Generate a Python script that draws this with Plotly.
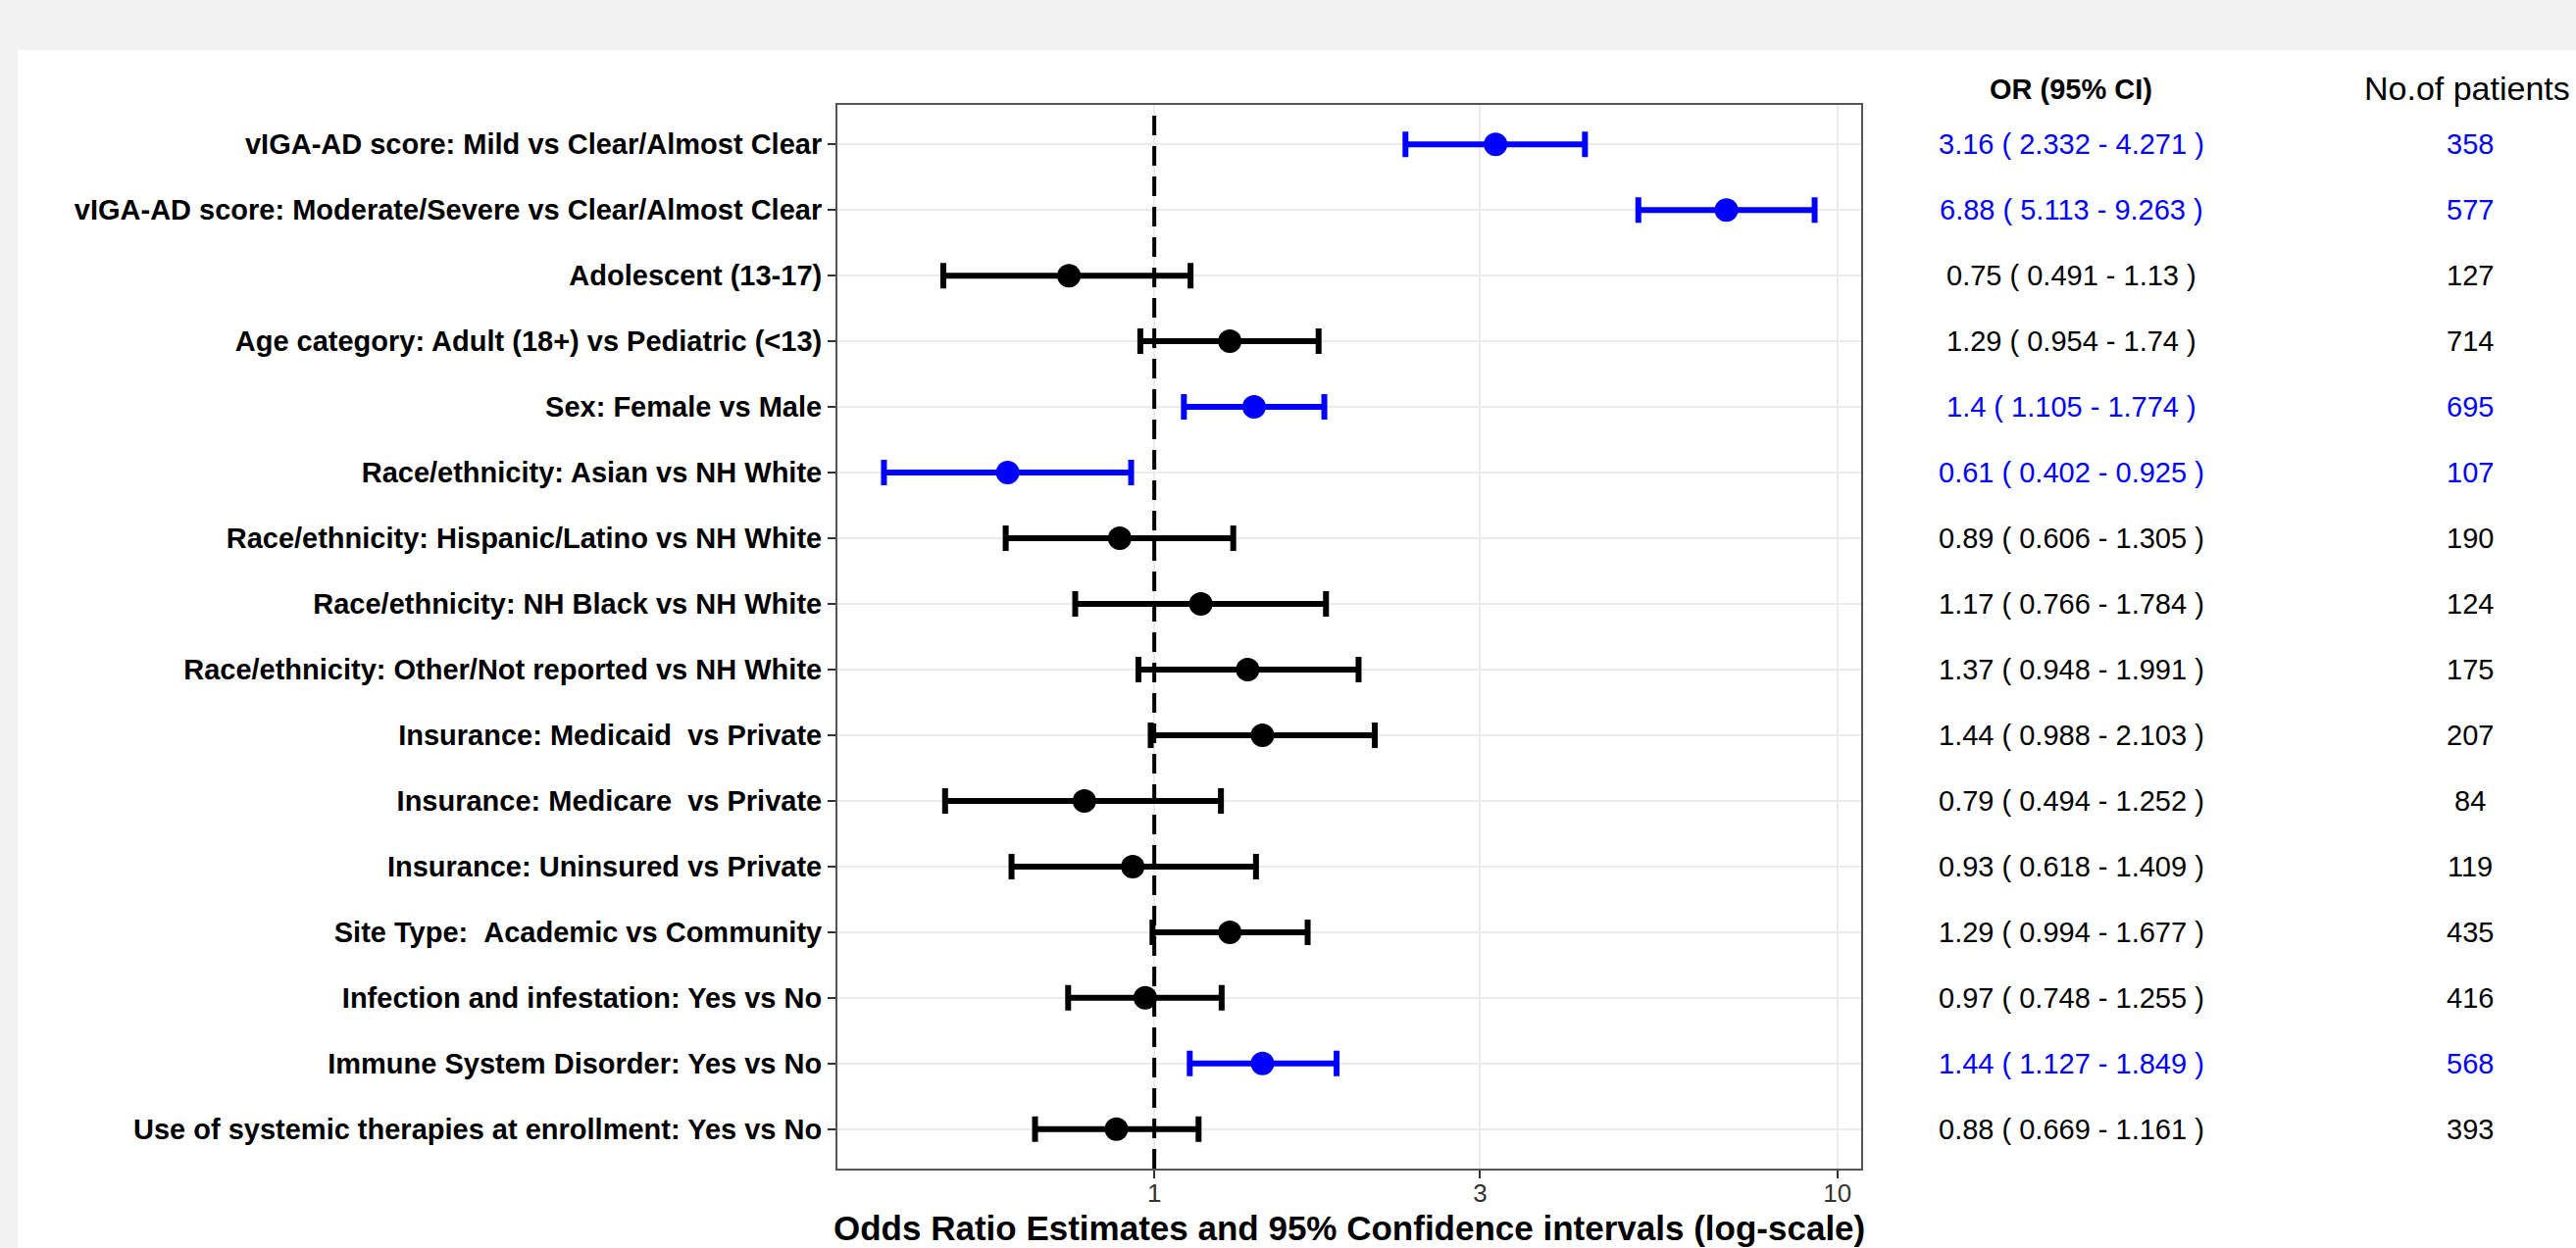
import math
import plotly.graph_objects as go

# ---------------- data ----------------
labels = [
    "vIGA-AD score: Mild vs Clear/Almost Clear",
    "vIGA-AD score: Moderate/Severe vs Clear/Almost Clear",
    "Adolescent (13-17)",
    "Age category: Adult (18+) vs Pediatric (<13)",
    "Sex: Female vs Male",
    "Race/ethnicity: Asian vs NH White",
    "Race/ethnicity: Hispanic/Latino vs NH White",
    "Race/ethnicity: NH Black vs NH White",
    "Race/ethnicity: Other/Not reported vs NH White",
    "Insurance: Medicaid  vs Private",
    "Insurance: Medicare  vs Private",
    "Insurance: Uninsured vs Private",
    "Site Type:  Academic vs Community",
    "Infection and infestation: Yes vs No",
    "Immune System Disorder: Yes vs No",
    "Use of systemic therapies at enrollment: Yes vs No",
]
odds_ratio = [3.16, 6.88, 0.75, 1.29, 1.4, 0.61, 0.89, 1.17, 1.37, 1.44, 0.79, 0.93, 1.29, 0.97, 1.44, 0.88]
ci_low = [2.332, 5.113, 0.491, 0.954, 1.105, 0.402, 0.606, 0.766, 0.948, 0.988, 0.494, 0.618, 0.994, 0.748, 1.127, 0.669]
ci_high = [4.271, 9.263, 1.13, 1.74, 1.774, 0.925, 1.305, 1.784, 1.991, 2.103, 1.252, 1.409, 1.677, 1.255, 1.849, 1.161]
n_patients = [358, 577, 127, 714, 695, 107, 190, 124, 175, 207, 84, 119, 435, 416, 568, 393]
or_text = [
    "3.16 ( 2.332 - 4.271 )", "6.88 ( 5.113 - 9.263 )", "0.75 ( 0.491 - 1.13 )",
    "1.29 ( 0.954 - 1.74 )", "1.4 ( 1.105 - 1.774 )", "0.61 ( 0.402 - 0.925 )",
    "0.89 ( 0.606 - 1.305 )", "1.17 ( 0.766 - 1.784 )", "1.37 ( 0.948 - 1.991 )",
    "1.44 ( 0.988 - 2.103 )", "0.79 ( 0.494 - 1.252 )", "0.93 ( 0.618 - 1.409 )",
    "1.29 ( 0.994 - 1.677 )", "0.97 ( 0.748 - 1.255 )", "1.44 ( 1.127 - 1.849 )",
    "0.88 ( 0.669 - 1.161 )",
]
x_ticks = [1, 3, 10]
x_title = "Odds Ratio Estimates and 95% Confidence intervals (log-scale)"
col1_header = "OR (95% CI)"
col2_header = "No.of patients"

BLUE = "#0000ff"
BLACK = "#000000"
FONT = "Liberation Sans, Arial, sans-serif"

W, H = 2627, 1273
L, R, T, B = 854, 1898, 107, 1192  # plot area in pixels

def disp(s):
    return s.replace("  ", " \u00a0")

ylabels = [disp(s) for s in labels]
significant = [(lo > 1) or (hi < 1) for lo, hi in zip(ci_low, ci_high)]

fig = go.Figure()

for flag, col in [(False, BLACK), (True, BLUE)]:
    idx = [i for i in range(len(labels)) if significant[i] == flag]
    fig.add_trace(go.Scatter(
        x=[odds_ratio[i] for i in idx],
        y=[ylabels[i] for i in idx],
        mode="markers",
        marker=dict(size=24, color=col, line=dict(width=0)),
        error_x=dict(
            type="data", symmetric=False,
            array=[ci_high[i] - odds_ratio[i] for i in idx],
            arrayminus=[odds_ratio[i] - ci_low[i] for i in idx],
            color=col, thickness=6, width=13,
        ),
        showlegend=False,
        cliponaxis=False,
    ))

# x range with 5% expansion on log scale (ggplot-like)
lo_log = math.log10(min(ci_low))
hi_log = math.log10(max(ci_high))
pad = 0.05 * (hi_log - lo_log)

fig.update_layout(
    width=W, height=H,
    paper_bgcolor="#f2f2f2",
    plot_bgcolor="white",
    margin=dict(l=L, r=W - R, t=T, b=H - B, autoexpand=False),
    font=dict(family=FONT, color="black"),
    xaxis=dict(
        type="log",
        range=[lo_log - pad, hi_log + pad],
        tickvals=x_ticks, ticktext=[str(v) for v in x_ticks],
        tickfont=dict(size=26, color="#333333", family=FONT),
        ticks="outside", ticklen=8, tickwidth=2, tickcolor="#333333",
        ticklabelstandoff=-7,
        showgrid=True, gridcolor="#ebebeb", gridwidth=2,
        showline=True, linecolor="#555555", linewidth=2, mirror=True,
        zeroline=False,
    ),
    yaxis=dict(
        type="category",
        categoryorder="array", categoryarray=ylabels[::-1],
        range=[-0.6, len(labels) - 0.4],
        tickfont=dict(size=29, color="black", family=FONT),
        tickvals=ylabels, ticktext=["<b>%s</b>" % s for s in ylabels],
        ticks="outside", ticklen=8, tickwidth=2, tickcolor="#333333",
        showgrid=True, gridcolor="#ebebeb", gridwidth=2,
        showline=True, linecolor="#555555", linewidth=2, mirror=True,
        zeroline=False,
    ),
)

# white panel behind chart
fig.add_shape(type="rect", xref="paper", yref="paper",
              x0=(18 - L) / (R - L), x1=(W + 10 - L) / (R - L),
              y0=(B - (H + 10)) / (B - T), y1=(B - 51) / (B - T),
              fillcolor="white", line=dict(width=0), layer="below")

# reference line at OR = 1
fig.add_shape(type="line", xref="x", yref="paper", x0=1, x1=1, y0=0, y1=1,
              line=dict(color="black", width=4, dash="20px,11px"), layer="above")

def px_to_paper_x(px):
    return (px - L) / (R - L)

def px_to_paper_y(py):
    return (B - py) / (B - T)

# table columns
for i, lab in enumerate(ylabels):
    col = BLUE if significant[i] else BLACK
    fig.add_annotation(x=px_to_paper_x(2112), xref="paper", y=lab, yref="y",
                       text=or_text[i], showarrow=False, xanchor="center", yanchor="middle",
                       font=dict(size=29, color=col, family=FONT))
    fig.add_annotation(x=px_to_paper_x(2519), xref="paper", y=lab, yref="y",
                       text=str(n_patients[i]), showarrow=False, xanchor="center", yanchor="middle",
                       font=dict(size=29, color=col, family=FONT))

fig.add_annotation(x=px_to_paper_x(2112), xref="paper", y=px_to_paper_y(91), yref="paper",
                   text="<b>%s</b>" % col1_header, showarrow=False, xanchor="center", yanchor="middle",
                   font=dict(size=29, color="black", family=FONT))
fig.add_annotation(x=px_to_paper_x(2516), xref="paper", y=px_to_paper_y(90), yref="paper",
                   text=col2_header, showarrow=False, xanchor="center", yanchor="middle",
                   font=dict(size=34, color="black", family=FONT))

# x-axis title
fig.add_annotation(x=0.5, xref="paper", y=px_to_paper_y(1252), yref="paper",
                   text="<b>%s</b>" % x_title, showarrow=False, xanchor="center", yanchor="middle",
                   font=dict(size=35, color="black", family=FONT))

fig.write_html(
    "out.html",
    config={"displayModeBar": False},
    post_script="document.body.style.margin='0';document.body.style.padding='0';"
                "document.body.style.overflow='hidden';document.documentElement.style.overflow='hidden';",
)
